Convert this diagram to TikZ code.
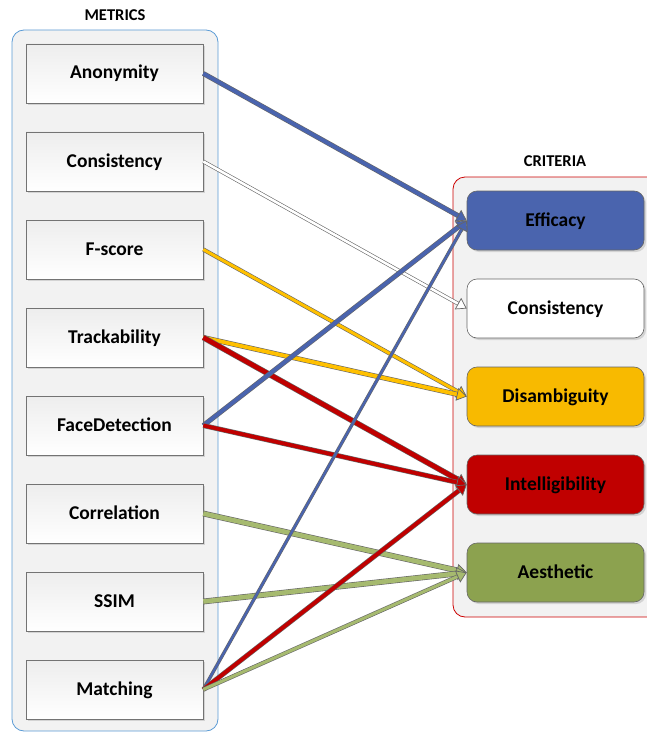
\documentclass[tikz,border=0pt]{standalone}
\usepackage{fontspec}
\setmainfont{Carlito}
\usetikzlibrary{arrows.meta,shadows}
\definecolor{cblue}{HTML}{4A64AE}
\definecolor{cgold}{HTML}{F8BA00}
\definecolor{cred}{HTML}{C00000}
\definecolor{cgreen}{HTML}{8CA24F}
\definecolor{agreen}{HTML}{A6BA6F}
\definecolor{agold}{HTML}{FFC000}
\definecolor{panel}{HTML}{F2F2F2}
\definecolor{lblue}{HTML}{5B9BD5}
\begin{document}
\begin{tikzpicture}[x=1pt,y=-1pt,
  title/.style={font=\bfseries\fontsize{16.5}{19}\selectfont},
  container/.style={draw=#1, line width=0.8pt, fill=panel, rounded corners=12pt},
  metric/.style={draw=black!55, line width=0.6pt, top color=black!7, bottom color=white,
    minimum width=177pt, minimum height=59pt, text height=14pt, text depth=3pt,
    font=\bfseries\fontsize{19.5}{23}\selectfont,
    drop shadow={shadow xshift=2pt, shadow yshift=-2pt, fill=black!20, opacity=0.8}},
  crit/.style={draw=black!60, line width=0.6pt, fill=#1, rounded corners=10pt,
    minimum width=177pt, minimum height=59pt, text height=14pt, text depth=3pt,
    font=\bfseries\fontsize{19.5}{23}\selectfont,
    drop shadow={shadow xshift=2pt, shadow yshift=-2pt, fill=black!20, opacity=0.8}},
  arr/.style 2 args={draw=#1, line width=#2,
    preaction={draw=black!60, line width=#2+1.2pt, -, shorten >=6pt},
    -{Triangle[length=10pt,width=13pt,fill=#1,color=black!60,line width=0.7pt]}}
]
\useasboundingbox (0,0) rectangle (647,733);
% containers
\node[container=lblue, minimum width=206pt, minimum height=701pt] (left) at (115,380.5) {};
\node[container=red!80!black, minimum width=212pt, minimum height=440pt] (right) at (559,397) {};
\node[title] (mt) at (115,15) {METRICS};
\node[title] (ct) at (555,161) {CRITERIA};
% metrics
\node[metric] (anon) at (114.5,73.5) {Anonymity};
\node[metric] (cons) at (114.5,161.5) {Consistency};
\node[metric] (fsc) at (114.5,249.5) {F-score};
\node[metric] (track) at (114.5,337.5) {Trackability};
\node[metric] (face) at (114.5,425.5) {FaceDetection};
\node[metric] (corr) at (114.5,513.5) {Correlation};
\node[metric] (ssim) at (114.5,601.5) {SSIM};
\node[metric] (match) at (114.5,689.5) {Matching};
% criteria
\node[crit=cblue] (eff) at (555.5,220.5) {Efficacy};
\node[crit=white] (ccons) at (555.5,308.5) {Consistency};
\node[crit=cgold] (dis) at (555.5,396.5) {Disambiguity};
\node[crit=cred] (intel) at (555.5,484.5) {Intelligibility};
\node[crit=cgreen] (aes) at (555.5,572.5) {Aesthetic};
% connectors
\draw[arr={cblue}{3.8pt}] (anon.east) -- (eff.west);
\draw[arr={white}{2.6pt}] (cons.east) -- (ccons.west);
\draw[arr={agold}{3pt}] (fsc.east) -- (dis.west);
\draw[arr={agold}{3.8pt}] (track.east) -- (dis.west);
\draw[arr={cred}{4.6pt}] (track.east) -- (intel.west);
\draw[arr={cblue}{3.8pt}] (face.east) -- (eff.west);
\draw[arr={cred}{3.8pt}] (face.east) -- (intel.west);
\draw[arr={agreen}{4.6pt}] (corr.east) -- (aes.west);
\draw[arr={agreen}{4.6pt}] (ssim.east) -- (aes.west);
\draw[arr={cblue}{2.2pt}] (match.east) -- (eff.west);
\draw[arr={cred}{3.8pt}] (match.east) -- (intel.west);
\draw[arr={agreen}{3pt}] (match.east) -- (aes.west);
\end{tikzpicture}
\end{document}
